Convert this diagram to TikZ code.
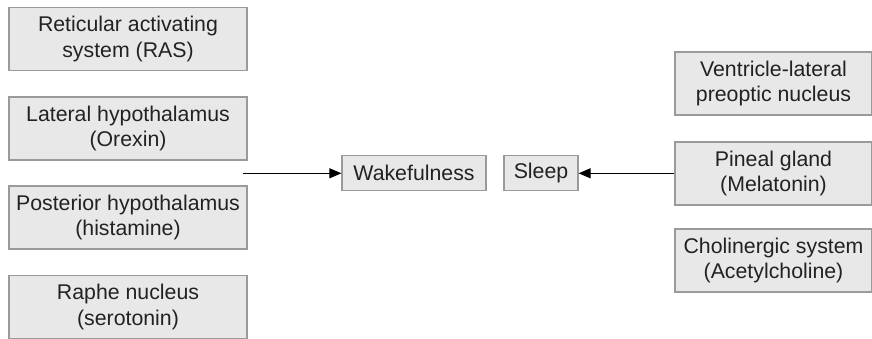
\documentclass[tikz,border=0pt]{standalone}
\usepackage{fontspec}
\setmainfont{Liberation Sans}
\usetikzlibrary{arrows.meta}
\definecolor{boxfill}{HTML}{E8E8E8}
\definecolor{boxline}{HTML}{9A9A9A}
\definecolor{txt}{HTML}{222222}
\begin{document}
\begin{tikzpicture}[x=1pt,y=-1pt,
  box/.style={draw=boxline, fill=boxfill, line width=1.2pt, inner sep=0pt, align=center,
    text=txt, font=\fontsize{21.3}{25.5}\selectfont},
  lbox/.style={box, minimum width=238pt, minimum height=63pt},
  rbox/.style={box, minimum width=197pt, minimum height=63pt},
  arr/.style={line width=1pt, draw=black, -{Triangle[length=12pt,width=10pt]}}]
\useasboundingbox (0,0) rectangle (872,339);
\node[lbox] (ras) at (128,39) {Reticular activating\\system (RAS)};
\node[lbox] (lh) at (128,128.5) {Lateral hypothalamus\\(Orexin)};
\node[lbox] (ph) at (128,217.5) {Posterior hypothalamus\\(histamine)};
\node[lbox] (rn) at (128,307) {Raphe nucleus\\(serotonin)};
\node[rbox] (vlpo) at (773.5,83.5) {Ventricle-lateral\\preoptic nucleus};
\node[rbox] (pg) at (773.5,173.5) {Pineal gland\\(Melatonin)};
\node[rbox] (cs) at (773.5,260.5) {Cholinergic system\\(Acetylcholine)};
\node[box, minimum width=144pt, minimum height=35pt] (wake) at (414,173.3) {Wakefulness};
\node[box, minimum width=74pt, minimum height=35pt] (sleep) at (541,173.3) {Sleep};
\coordinate (start) at (243,173.3);
\draw[arr] (start) -- (wake.west);
\draw[arr] (pg.west |- sleep.east) -- (sleep.east);
\end{tikzpicture}
\end{document}
